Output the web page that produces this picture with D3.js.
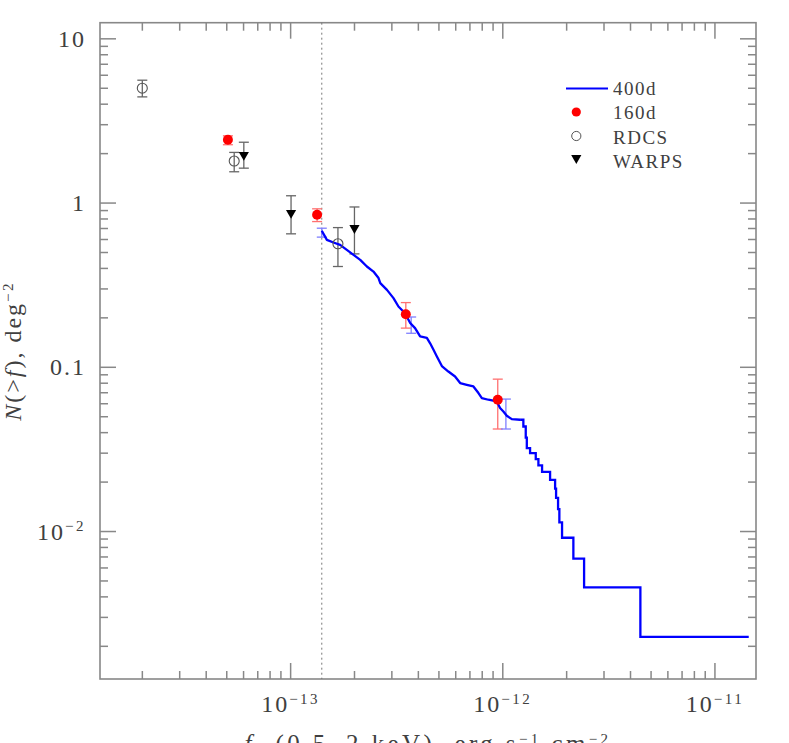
<!DOCTYPE html>
<html>
<head>
<meta charset="utf-8">
<script src="https://cdn.jsdelivr.net/npm/d3@7"></script>
<style>
  body { margin: 0; background: #fff; }
  svg { display: block; }
</style>
</head>
<body>
<div id="chart"></div>
<script>
// 400d cumulative counts N(>f)
const stepFlux = [1.41e-13, 1.49e-13, 1.60e-13, 1.72e-13, 1.85e-13, 1.99e-13, 2.14e-13, 2.30e-13,
  2.47e-13, 2.61e-13, 2.66e-13, 2.86e-13, 3.07e-13, 3.24e-13, 3.48e-13, 3.68e-13, 3.88e-13,
  4.10e-13, 4.41e-13, 4.57e-13, 4.74e-13, 4.91e-13, 5.19e-13, 5.57e-13, 5.99e-13, 6.33e-13,
  6.80e-13, 7.31e-13, 7.72e-13, 8.01e-13, 8.60e-13, 9.42e-13, 9.76e-13, 1.012e-12, 1.050e-12,
  1.109e-12, 1.213e-12, 1.257e-12, 1.290e-12, 1.305e-12, 1.352e-12, 1.438e-12, 1.480e-12,
  1.540e-12, 1.680e-12, 1.774e-12, 1.793e-12, 1.832e-12, 1.858e-12, 1.913e-12, 2.163e-12,
  2.430e-12, 4.476e-12, 1.451e-11];
const stepN = [0.673, 0.593, 0.571, 0.553, 0.515, 0.480, 0.448, 0.408,
  0.380, 0.347, 0.323, 0.294, 0.262, 0.233, 0.212, 0.185, 0.172,
  0.153, 0.150, 0.139, 0.127, 0.116, 0.101, 0.0936, 0.0873, 0.0796,
  0.0777, 0.0759, 0.0692, 0.0645, 0.0630, 0.0615, 0.0561, 0.0534, 0.0503,
  0.0480, 0.0476, 0.0433, 0.0370, 0.0320, 0.0298, 0.0274, 0.0251,
  0.0229, 0.0205, 0.0181, 0.0159, 0.0136, 0.0113, 0.0091, 0.0068,
  0.00454, 0.00227, 0.00227];
// below this index the single-cluster steps are wide enough to draw as a staircase
const stepStart = 36;

// 400d error bars (no marker)
const errFlux400 = [1.41e-13, 3.72e-13, 1.04e-12];
const errLo400 = [0.616, 0.160, 0.0418];
const errHi400 = [0.698, 0.201, 0.0636];

// 160d
const flux160 = [5.09e-14, 1.34e-13, 3.51e-13, 9.52e-13];
const n160 = [2.41, 0.842, 0.209, 0.063];
const lo160 = [2.25, 0.766, 0.172, 0.0418];
const hi160 = [2.55, 0.916, 0.246, 0.0841];

// RDCS
const fluxRdcs = [2.01e-14, 5.45e-14, 1.68e-13];
const nRdcs = [4.97, 1.79, 0.561];
const loRdcs = [4.40, 1.54, 0.408];
const hiRdcs = [5.56, 2.02, 0.704];

// WARPS
const fluxWarps = [6.05e-14, 1.01e-13, 2.01e-13];
const nWarps = [1.95, 0.866, 0.70];
const loWarps = [1.62, 0.645, 0.487];
const hiWarps = [2.33, 1.10, 0.94];

const fluxLimit = 1.41e-13;

const legendLabels = ["400d", "160d", "RDCS", "WARPS"];

const xTickValues = [1e-13, 1e-12, 1e-11];
const xTickLabels = [["10", "\u221213"], ["10", "\u221212"], ["10", "\u221211"]];
const yTickValues = [10, 1, 0.1, 0.01];
const yTickLabels = [["10", ""], ["1", ""], ["0.1", ""], ["10", "\u22122"]];

document.addEventListener('DOMContentLoaded', () => {
  drawChart();
});

function drawChart() {
  const width = 789, height = 743;
  const margin = { top: 22.7, right: 33, bottom: 64, left: 100 };
  const axisColor = "#888";
  const textColor = "#404040";
  const font = "'Liberation Serif', 'Times New Roman', serif";

  const x = d3.scaleLog()
    .domain([1.27e-14, 1.57e-11])
    .range([margin.left, width - margin.right]);
  const y = d3.scaleLog()
    .domain([1.256e-3, 12.45])
    .range([height - margin.bottom, margin.top]);

  const svg = d3.select("#chart").append("svg")
    .attr("width", width)
    .attr("height", height)
    .style("background", "#fff");

  const isMajor = d => Math.abs(Math.log10(d) - Math.round(Math.log10(d))) < 1e-6;
  const xMinor = x.ticks().filter(d => !isMajor(d));
  const yMinor = y.ticks().filter(d => !isMajor(d));

  // all four sides get inward ticks: long majors, short minors
  function addAxis(axisFn, scale, values, size, transform) {
    return svg.append("g")
      .attr("transform", transform)
      .call(axisFn(scale).tickValues(values).tickSizeInner(-size).tickSizeOuter(0).tickFormat(""))
      .call(g => g.select(".domain").remove())
      .call(g => g.selectAll(".tick line").attr("stroke", axisColor).attr("stroke-width", 1.5));
  }
  const bottomY = height - margin.bottom, topY = margin.top;
  const leftX = margin.left, rightX = width - margin.right;

  addAxis(d3.axisBottom, x, xMinor, 8, `translate(0,${bottomY})`);
  addAxis(d3.axisTop, x, xMinor, 8, `translate(0,${topY})`);
  addAxis(d3.axisTop, x, xTickValues, 16, `translate(0,${topY})`);
  addAxis(d3.axisLeft, y, yMinor, 8, `translate(${leftX},0)`);
  addAxis(d3.axisRight, y, yMinor, 8, `translate(${rightX},0)`);
  addAxis(d3.axisRight, y, yTickValues, 16, `translate(${rightX},0)`);

  // power-of-ten labels: big mantissa, small wide superscript
  function powerLabel(sel, labels) {
    sel.each(function (d, i) {
      const t = d3.select(this).text(null);
      t.append("tspan").style("letter-spacing", "2px").text(labels[i][0]);
      if (labels[i][1]) {
        t.append("tspan").attr("dy", -8.5)
          .style("font-size", "15px").style("letter-spacing", "2.5px")
          .text(labels[i][1]);
      }
    });
  }

  const xAxisG = addAxis(d3.axisBottom, x, xTickValues, 16, `translate(0,${bottomY})`);
  xAxisG.selectAll(".tick text")
    .attr("y", 16)
    .attr("dy", "0.71em")
    .attr("fill", textColor)
    .style("font-family", font)
    .style("font-size", "24px")
    .call(powerLabel, xTickLabels);

  const yAxisG = addAxis(d3.axisLeft, y, yTickValues, 16, `translate(${leftX},0)`);
  yAxisG.selectAll(".tick text")
    .attr("x", -14)
    .attr("dy", "0.34em")
    .attr("fill", textColor)
    .style("font-family", font)
    .style("font-size", "24px")
    .call(powerLabel, yTickLabels);

  // frame
  svg.append("rect")
    .attr("x", leftX).attr("y", topY)
    .attr("width", rightX - leftX).attr("height", bottomY - topY)
    .attr("fill", "none")
    .attr("stroke", axisColor)
    .attr("stroke-width", 1.6);

  // flux limit
  svg.append("line")
    .attr("x1", x(fluxLimit)).attr("x2", x(fluxLimit))
    .attr("y1", topY).attr("y2", bottomY)
    .attr("stroke", "#777")
    .attr("stroke-width", 1)
    .attr("stroke-dasharray", "2,3");

  function errorBars(fx, lo, hi, color, cap) {
    const g = svg.append("g")
      .attr("stroke", color)
      .attr("stroke-width", 1.3)
      .attr("fill", "none");
    fx.forEach((f, i) => {
      const cx = x(f);
      g.append("line").attr("x1", cx).attr("x2", cx).attr("y1", y(lo[i])).attr("y2", y(hi[i]));
      g.append("line").attr("x1", cx - cap).attr("x2", cx + cap).attr("y1", y(lo[i])).attr("y2", y(lo[i]));
      g.append("line").attr("x1", cx - cap).attr("x2", cx + cap).attr("y1", y(hi[i])).attr("y2", y(hi[i]));
    });
  }

  errorBars(fluxRdcs, loRdcs, hiRdcs, "#666", 5);
  errorBars(fluxWarps, loWarps, hiWarps, "#666", 5);
  errorBars(flux160, lo160, hi160, "#ff7070", 5);
  errorBars(errFlux400, errLo400, errHi400, "#7f7fff", 5);

  // 400d curve: dense part as a polyline, sparse bright end as a staircase
  const pts = stepFlux.map((f, i) => [f, stepN[i]]);
  const dense = d3.line().x(d => x(d[0])).y(d => y(d[1]));
  const stairs = d3.line().curve(d3.curveStepAfter).x(d => x(d[0])).y(d => y(d[1]));

  const curve = svg.append("g")
    .attr("fill", "none")
    .attr("stroke", "#0000ff")
    .attr("stroke-width", 2.3)
    .attr("stroke-linejoin", "round");
  curve.append("path").attr("d", dense(pts.slice(0, stepStart + 1)));
  curve.append("path").attr("stroke-linejoin", "miter").attr("d", stairs(pts.slice(stepStart)));

  const triangle = d3.symbol().type(d3.symbolTriangle).size(45);

  // markers
  svg.append("g")
    .selectAll("circle")
    .data(fluxRdcs.map((f, i) => [f, nRdcs[i]]))
    .join("circle")
    .attr("cx", d => x(d[0]))
    .attr("cy", d => y(d[1]))
    .attr("r", 5)
    .attr("fill", "none")
    .attr("stroke", "#555")
    .attr("stroke-width", 1.1);

  svg.append("g")
    .selectAll("path")
    .data(fluxWarps.map((f, i) => [f, nWarps[i]]))
    .join("path")
    .attr("d", triangle)
    .attr("transform", d => `translate(${x(d[0])},${y(d[1])}) rotate(180)`)
    .attr("fill", "#000");

  svg.append("g")
    .selectAll("circle")
    .data(flux160.map((f, i) => [f, n160[i]]))
    .join("circle")
    .attr("cx", d => x(d[0]))
    .attr("cy", d => y(d[1]))
    .attr("r", 5)
    .attr("fill", "#ff0000");

  // legend
  const legend = svg.append("g").attr("transform", "translate(566,88.5)");
  const rowH = 24.5;
  legend.append("line")
    .attr("x1", 0).attr("x2", 42).attr("y1", 0).attr("y2", 0)
    .attr("stroke", "#0000ff").attr("stroke-width", 2);
  legend.append("circle").attr("cx", 10.3).attr("cy", rowH * 1 - 1).attr("r", 4.6).attr("fill", "#ff0000");
  legend.append("circle").attr("cx", 10.3).attr("cy", rowH * 2 - 1.5).attr("r", 4.6)
    .attr("fill", "none").attr("stroke", "#555").attr("stroke-width", 1);
  legend.append("path").attr("d", triangle)
    .attr("transform", `translate(10.3,${rowH * 3 - 4}) rotate(180)`).attr("fill", "#000");
  legend.selectAll("text")
    .data(legendLabels)
    .join("text")
    .attr("x", 47)
    .attr("y", (d, i) => i * rowH + 6)
    .attr("fill", textColor)
    .style("font-family", font)
    .style("font-size", "19px")
    .style("letter-spacing", "1.5px")
    .text(d => d);

  // axis titles
  const yTitle = svg.append("text")
    .attr("transform", `translate(21,${(topY + bottomY) / 2}) rotate(-90)`)
    .attr("text-anchor", "middle")
    .attr("fill", textColor)
    .style("font-family", font)
    .style("font-size", "24px")
    .style("letter-spacing", "2px");
  yTitle.append("tspan").style("font-style", "italic").text("N");
  yTitle.append("tspan").text("(>");
  yTitle.append("tspan").style("font-style", "italic").text("f");
  yTitle.append("tspan").text("),  deg");
  yTitle.append("tspan").attr("dy", -8.5).style("font-size", "15px").style("letter-spacing", "2.5px").text("\u22122");

  // the reference crops this title at the page edge; only its upper part shows
  const xTitle = svg.append("text")
    .attr("x", (leftX + rightX) / 2)
    .attr("y", 752)
    .attr("text-anchor", "middle")
    .attr("fill", textColor)
    .style("font-family", font)
    .style("font-size", "25px")
    .style("letter-spacing", "3.4px");
  xTitle.append("tspan").style("font-style", "italic").text("f");
  xTitle.append("tspan").attr("dy", 6).style("font-size", "15px").text("x");
  xTitle.append("tspan").attr("dy", -6).text("  (0.5\u22122 keV),  erg  s");
  xTitle.append("tspan").attr("dy", -8.5).style("font-size", "15px").text("\u22121");
  xTitle.append("tspan").attr("dy", 8.5).text("  cm");
  xTitle.append("tspan").attr("dy", -8.5).style("font-size", "15px").text("\u22122");
}
</script>
</body>
</html>
